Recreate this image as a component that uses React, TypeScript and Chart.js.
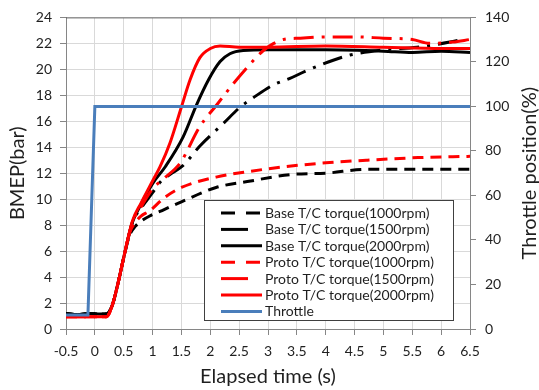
import React, { useEffect, useRef } from "react";
import { Chart, registerables } from "chart.js";

Chart.register(...registerables);

// Elapsed time (s) and BMEP (bar) for each turbocharger / speed case
const baseTime1000 = [-0.5, -0.3, -0.1, 0.1, 0.2, 0.3, 0.4, 0.5, 0.6, 0.7, 0.8, 0.95, 1.2, 1.5, 2.1, 2.7, 3.4, 4.0, 4.7, 5.5, 6.5];
const baseBmep1000 = [1.2, 1.1, 1.2, 1.15, 1.15, 1.8, 3.5, 5.5, 7.2, 7.9, 8.3, 8.7, 9.2, 9.8, 10.9, 11.4, 11.9, 12.0, 12.3, 12.3, 12.3];

const baseTime1500 = [-0.5, -0.3, -0.1, 0.1, 0.2, 0.3, 0.4, 0.5, 0.65, 0.8, 1.0, 1.13, 1.3, 1.53, 1.82, 2.23, 2.52, 2.74, 3.09, 3.38, 3.67, 4.13, 4.42, 5.0, 5.58, 6.15, 6.35];
const baseBmep1500 = [1.2, 1.1, 1.2, 1.15, 1.15, 1.8, 3.5, 5.5, 8.2, 9.3, 10.5, 11.3, 11.9, 12.6, 14.1, 15.85, 17.1, 17.8, 18.8, 19.3, 19.9, 20.7, 21.1, 21.5, 21.7, 22.1, 22.3];

const baseTime2000 = [-0.5, -0.3, -0.1, 0.1, 0.2, 0.3, 0.4, 0.5, 0.65, 0.8, 1.0, 1.22, 1.53, 1.76, 1.97, 2.17, 2.34, 2.57, 3.0, 4.0, 5.0, 5.5, 6.0, 6.5];
const baseBmep2000 = [1.2, 1.1, 1.2, 1.15, 1.15, 1.8, 3.5, 5.5, 8.2, 9.6, 11.2, 12.5, 14.8, 17.25, 19.2, 20.6, 21.2, 21.45, 21.5, 21.5, 21.4, 21.3, 21.4, 21.3];

const protoTime1000 = [-0.5, -0.1, 0.1, 0.2, 0.3, 0.4, 0.5, 0.6, 0.7, 0.8, 0.95, 1.2, 1.5, 2.1, 2.7, 3.3, 4.0, 4.7, 5.6, 6.5];
const protoBmep1000 = [0.95, 0.95, 0.95, 0.95, 1.8, 3.5, 5.5, 7.4, 8.2, 8.7, 9.1, 10.1, 10.9, 11.7, 12.15, 12.5, 12.8, 13.0, 13.2, 13.3];

const protoTime1500 = [-0.5, -0.1, 0.1, 0.2, 0.3, 0.4, 0.5, 0.65, 0.8, 1.0, 1.2, 1.48, 1.82, 2.11, 2.4, 2.69, 2.92, 3.1, 3.27, 3.56, 4.0, 4.5, 5.0, 5.5, 5.8, 6.2, 6.5];
const protoBmep1500 = [0.95, 0.95, 0.95, 0.95, 1.8, 3.5, 5.5, 8.2, 9.4, 10.8, 11.6, 12.8, 15.6, 17.25, 18.9, 20.4, 21.45, 22.0, 22.3, 22.4, 22.5, 22.5, 22.4, 22.3, 22.0, 22.1, 22.3];

const protoTime2000 = [-0.5, -0.1, 0.1, 0.2, 0.3, 0.4, 0.5, 0.65, 0.8, 1.0, 1.13, 1.3, 1.5, 1.65, 1.82, 2.0, 2.17, 2.5, 3.0, 4.0, 5.0, 6.0, 6.5];
const protoBmep2000 = [0.95, 0.95, 0.95, 0.95, 1.8, 3.5, 5.5, 8.3, 9.7, 11.4, 12.5, 14.3, 17.1, 19.2, 20.9, 21.6, 21.8, 21.7, 21.7, 21.8, 21.7, 21.6, 21.6];

// Throttle position (%) on the secondary axis
const throttleTime = [-0.5, -0.12, 0.0, 6.5];
const throttlePct = [6.3, 6.3, 100, 100];

const xTickStep = 0.5;
const bmepMax = 24;
const bmepStep = 2;
const throttleMax = 140;
const throttleStep = 20;

const FONT = "Lato, 'Open Sans', sans-serif";
const TEXT = "#1f1f1f";
const AXIS = "#868686";
const GRID = "#d9d9d9";

const DASH = [11, 7];
const DASH_DOT = [20, 8, 3, 8];

type Series = {
  label: string;
  t: number[];
  v: number[];
  color: string;
  dash: number[];
  shortSample: boolean;
};

const torqueSeries: Series[] = [
  { label: "Base T/C torque(1000rpm)", t: baseTime1000, v: baseBmep1000, color: "#000000", dash: DASH, shortSample: false },
  { label: "Base T/C torque(1500rpm)", t: baseTime1500, v: baseBmep1500, color: "#000000", dash: DASH_DOT, shortSample: true },
  { label: "Base T/C torque(2000rpm)", t: baseTime2000, v: baseBmep2000, color: "#000000", dash: [], shortSample: false },
  { label: "Proto T/C torque(1000rpm)", t: protoTime1000, v: protoBmep1000, color: "#ff0000", dash: DASH, shortSample: false },
  { label: "Proto T/C torque(1500rpm)", t: protoTime1500, v: protoBmep1500, color: "#ff0000", dash: DASH_DOT, shortSample: true },
  { label: "Proto T/C torque(2000rpm)", t: protoTime2000, v: protoBmep2000, color: "#ff0000", dash: [], shortSample: false },
];

const throttleSeries: Series = {
  label: "Throttle",
  t: throttleTime,
  v: throttlePct,
  color: "#4a7ebb",
  dash: [],
  shortSample: false,
};

const zip = (t: number[], v: number[]) => t.map((x, i) => ({ x, y: v[i] }));

// Boxed legend inside the plot, plus the axis titles and the top frame line
const overlayPlugin = {
  id: "overlay",
  afterDraw(chart: any) {
    const { ctx, chartArea } = chart;
    ctx.save();

    // top frame
    ctx.strokeStyle = "#6a6a6a";
    ctx.lineWidth = 1;
    ctx.beginPath();
    ctx.moveTo(chartArea.left, chartArea.top + 0.5);
    ctx.lineTo(chartArea.right, chartArea.top + 0.5);
    ctx.stroke();

    // axis titles
    ctx.fillStyle = TEXT;
    ctx.font = `20px ${FONT}`;
    ctx.textAlign = "center";
    ctx.textBaseline = "middle";
    const midY = (chartArea.top + chartArea.bottom) / 2;
    ctx.fillText("Elapsed time (s)", (chartArea.left + chartArea.right) / 2, 377);

    ctx.save();
    ctx.translate(18, midY);
    ctx.rotate(-Math.PI / 2);
    ctx.fillText("BMEP(bar)", 0, 0);
    ctx.restore();

    ctx.save();
    ctx.translate(530, midY);
    ctx.rotate(-Math.PI / 2);
    ctx.fillText("Throttle position(%)", 0, 0);
    ctx.restore();

    // legend box
    const bx = 204.5, by = 200.5, bw = 249, bh = 120;
    ctx.fillStyle = "#ffffff";
    ctx.fillRect(bx, by, bw, bh);
    ctx.strokeStyle = "#404040";
    ctx.lineWidth = 1;
    ctx.strokeRect(bx, by, bw, bh);

    const entries = [...torqueSeries, throttleSeries];
    ctx.font = `14px ${FONT}`;
    ctx.textAlign = "left";
    entries.forEach((s, i) => {
      const y = 213 + i * 16.4;
      ctx.strokeStyle = s.color;
      ctx.lineWidth = 3;
      ctx.setLineDash(s.dash === DASH ? [14, 11] : []);
      ctx.beginPath();
      ctx.moveTo(221, y);
      ctx.lineTo(s.shortSample ? 248 : 262, y);
      ctx.stroke();
      ctx.setLineDash([]);
      ctx.fillStyle = TEXT;
      ctx.fillText(s.label, 265, y + 0.5);
    });

    ctx.restore();
  },
};

export default function App() {
  const canvasRef = useRef<HTMLCanvasElement | null>(null);

  useEffect(() => {
    if (!canvasRef.current) return;

    const torqueSets = torqueSeries.map((s) => ({
      label: s.label,
      data: zip(s.t, s.v),
      borderColor: s.color,
      backgroundColor: s.color,
      borderWidth: 3,
      borderDash: s.dash,
      pointRadius: 0,
      cubicInterpolationMode: "monotone" as const,
      yAxisID: "y",
      order: s.color === "#ff0000" ? 2 : 3,
    }));

    const throttleSet = {
      label: throttleSeries.label,
      data: zip(throttleSeries.t, throttleSeries.v),
      borderColor: throttleSeries.color,
      backgroundColor: throttleSeries.color,
      borderWidth: 3,
      pointRadius: 0,
      tension: 0,
      yAxisID: "y2",
      order: 0,
    };

    const tickFont = { family: FONT, size: 14 };

    const chart = new Chart(canvasRef.current, {
      type: "line",
      data: { datasets: [...torqueSets, throttleSet] },
      plugins: [overlayPlugin],
      options: {
        animation: false,
        responsive: false,
        maintainAspectRatio: false,
        layout: { padding: { top: 15, left: 0, right: 0, bottom: 0 } },
        plugins: { legend: { display: false }, tooltip: { enabled: false } },
        scales: {
          x: {
            type: "linear",
            min: -0.5,
            max: 6.5,
            ticks: {
              stepSize: xTickStep,
              font: tickFont,
              color: TEXT,
              padding: 8,
              maxRotation: 0,
              autoSkip: false,
              callback: (v: any) => String(Math.round(Number(v) * 10) / 10),
            },
            grid: { color: GRID, tickColor: AXIS, tickLength: 6 },
            border: { color: AXIS },
            afterFit: (s: any) => { s.height = 61; },
          },
          y: {
            position: "left",
            min: 0,
            max: bmepMax,
            ticks: { stepSize: bmepStep, font: tickFont, color: TEXT, padding: 8 },
            grid: { color: GRID, tickColor: AXIS, tickLength: 6 },
            border: { color: AXIS },
            afterFit: (s: any) => { s.width = 66; },
          },
          y2: {
            position: "right",
            min: 0,
            max: throttleMax,
            ticks: { stepSize: throttleStep, font: tickFont, color: TEXT, padding: 9 },
            grid: { drawOnChartArea: false, tickColor: AXIS, tickLength: 6 },
            border: { color: AXIS },
            afterFit: (s: any) => { s.width = 69; },
          },
        },
      },
    } as any);

    return () => chart.destroy();
  }, []);

  return (
    <div style={{ position: "fixed", left: 0, top: 0, width: 539, height: 390, background: "#fff" }}>
      <canvas ref={canvasRef} width={539} height={390} style={{ width: 539, height: 390 }} />
    </div>
  );
}
